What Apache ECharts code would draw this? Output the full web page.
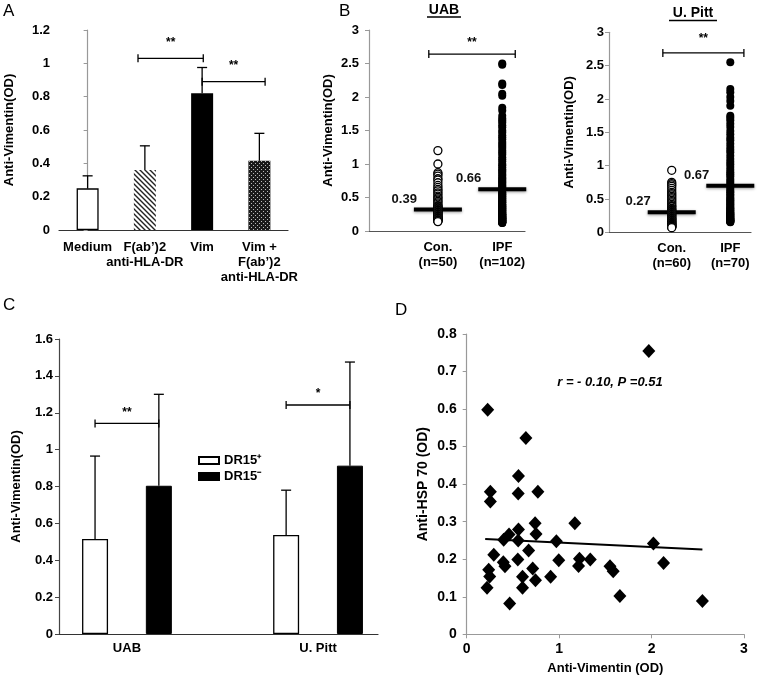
<!DOCTYPE html>
<html><head><meta charset="utf-8">
<script src="https://cdn.jsdelivr.net/npm/echarts@6/dist/echarts.min.js"></script>
<style>html,body{margin:0;padding:0;background:#fff}#c{width:757px;height:676px}</style>
</head><body><div id="c"></div>
<script>
// ---------- DATA ----------
// Panel A
const aCategories = ['Medium', 'F(ab’)2\nanti-HLA-DR', 'Vim', 'Vim +\nF(ab’)2\nanti-HLA-DR'];
const aMeans = [0.25, 0.36, 0.82, 0.415];
const aErrTops = [0.325, 0.505, 0.975, 0.58];
const aBrackets = [[0.88, 2.02, 1.03], [2.0, 3.1, 0.89]];
const aBracketLabels = ['**', '**'];

// Panel B - UAB
const ubGroups = ['Con.\n(n=50)', 'IPF\n(n=102)'];
const ubCon = [1.2, 1.0, 0.87, 0.85, 0.82, 0.78, 0.76, 0.72, 0.68, 0.65, 0.62, 0.6, 0.57, 0.55, 0.52, 0.5, 0.48, 0.46, 0.44, 0.42, 0.4, 0.38, 0.37, 0.36, 0.35, 0.34, 0.33, 0.32, 0.31, 0.3, 0.29, 0.28, 0.27, 0.26, 0.25, 0.24, 0.23, 0.22, 0.21, 0.2, 0.2, 0.19, 0.18, 0.18, 0.17, 0.16, 0.16, 0.15, 0.15, 0.14];
const ubIpf = [2.5, 2.48, 2.2, 2.18, 2.05, 2.02, 1.84, 1.8, 1.72, 1.68, 1.65, 1.62, 1.58, 1.55, 1.5, 1.47, 1.43, 1.4, 1.37, 1.33, 1.3, 1.27, 1.24, 1.2, 1.17, 1.14, 1.1, 1.07, 1.04, 1.0, 0.98, 0.95, 0.92, 0.9, 0.88, 0.85, 0.83, 0.8, 0.78, 0.76, 0.74, 0.72, 0.7, 0.68, 0.66, 0.64, 0.62, 0.6, 0.58, 0.56, 0.55, 0.53, 0.52, 0.5, 0.49, 0.47, 0.46, 0.44, 0.43, 0.42, 0.4, 0.39, 0.38, 0.37, 0.36, 0.35, 0.34, 0.33, 0.32, 0.31, 0.3, 0.29, 0.28, 0.27, 0.26, 0.25, 0.25, 0.24, 0.23, 0.23, 0.22, 0.21, 0.21, 0.2, 0.2, 0.19, 0.19, 0.18, 0.18, 0.17, 0.17, 0.16, 0.16, 0.15, 0.15, 0.14, 0.14, 0.13, 0.13, 0.13, 0.12, 0.12];
const ubMeanLevels = [0.32, 0.625];
const ubMeanLabels = ['0.39', '0.66'];
const ubBracket = [[0.92, 2.25, 2.64]];
const ubBracketLabels = ['**'];

// Panel B - U. Pitt
const upGroups = ['Con.\n(n=60)', 'IPF\n(n=70)'];
const upCon = [0.93, 0.75, 0.73, 0.71, 0.69, 0.66, 0.63, 0.6, 0.58, 0.56, 0.54, 0.52, 0.5, 0.48, 0.46, 0.44, 0.42, 0.4, 0.39, 0.38, 0.36, 0.35, 0.34, 0.33, 0.32, 0.31, 0.3, 0.29, 0.28, 0.27, 0.26, 0.25, 0.24, 0.23, 0.22, 0.21, 0.2, 0.2, 0.19, 0.18, 0.17, 0.17, 0.16, 0.15, 0.15, 0.14, 0.13, 0.13, 0.12, 0.12, 0.11, 0.11, 0.1, 0.1, 0.09, 0.09, 0.08, 0.08, 0.08, 0.07];
const upIpf = [2.55, 2.15, 2.1, 2.03, 1.97, 1.9, 1.75, 1.72, 1.68, 1.63, 1.58, 1.52, 1.47, 1.42, 1.38, 1.33, 1.28, 1.24, 1.2, 1.15, 1.1, 1.06, 1.02, 0.98, 0.94, 0.9, 0.87, 0.84, 0.8, 0.77, 0.74, 0.71, 0.68, 0.65, 0.62, 0.6, 0.57, 0.55, 0.52, 0.5, 0.48, 0.46, 0.44, 0.42, 0.4, 0.38, 0.36, 0.35, 0.33, 0.32, 0.3, 0.29, 0.28, 0.27, 0.26, 0.25, 0.24, 0.23, 0.22, 0.21, 0.2, 0.2, 0.19, 0.18, 0.18, 0.17, 0.17, 0.16, 0.16, 0.15];
const upMeanLevels = [0.30, 0.70];
const upMeanLabels = ['0.27', '0.67'];
const upBracket = [[0.91, 2.28, 2.69]];
const upBracketLabels = ['**'];

// Panel C
const cCategories = ['UAB', 'U. Pitt'];
const cSeriesNames = ['DR15⁺', 'DR15⁻'];
const cPlus = [0.515, 0.537];
const cPlusErr = [0.965, 0.78];
const cMinus = [0.804, 0.913];
const cMinusErr = [1.30, 1.475];
const cBracketY = [1.142, 1.242];
const cBracketLabels = ['**', '*'];

// Panel D
const dX = [0.227, 0.64, 0.56, 0.256, 0.557, 0.77, 0.256, 0.74, 1.17, 0.56, 0.458, 0.75, 0.40, 0.557, 0.97, 0.293, 0.67, 0.396, 0.414, 0.553, 0.996, 1.22, 1.21, 1.337, 0.238, 0.249, 0.22, 0.604, 0.714, 0.744, 0.908, 0.604, 0.465, 1.55, 1.585, 1.657, 1.97, 2.02, 2.13, 2.55];
const dY = [0.598, 0.523, 0.422, 0.380, 0.375, 0.380, 0.354, 0.296, 0.296, 0.279, 0.266, 0.267, 0.252, 0.250, 0.248, 0.212, 0.223, 0.192, 0.181, 0.199, 0.197, 0.201, 0.182, 0.199, 0.172, 0.154, 0.124, 0.153, 0.175, 0.144, 0.153, 0.124, 0.082, 0.181, 0.168, 0.102, 0.755, 0.242, 0.19, 0.089];
const dTrendX = [0.2, 2.55];
const dTrendY = [0.254, 0.226];
const dAnnotation = 'r = - 0.10, P =0.51';

// ---------- LAYOUT CONSTANTS ----------
const FONT = '"Liberation Sans", Arial, sans-serif';
const B_X = [1.06, 2.05];        // group positions on B x-axes
const C_GROUP_X = [2.13, 8.12];  // group centres on C x-axis
const C_OFF = 1.0;

// ---------- PATTERNS ----------
function hatchPattern() {
  const c = document.createElement('canvas'); c.width = 5; c.height = 5;
  const g = c.getContext('2d');
  g.fillStyle = '#fff'; g.fillRect(0, 0, 5, 5);
  g.strokeStyle = '#222'; g.lineWidth = 1.4;
  g.beginPath();
  g.moveTo(0, 0); g.lineTo(5, 5);
  g.moveTo(-1, 4); g.lineTo(1, 6);
  g.moveTo(4, -1); g.lineTo(6, 1);
  g.stroke();
  return { image: c, repeat: 'repeat' };
}
function checkPattern() {
  const c = document.createElement('canvas'); c.width = 4; c.height = 4;
  const g = c.getContext('2d');
  g.fillStyle = '#1a1a1a'; g.fillRect(0, 0, 4, 4);
  g.fillStyle = '#bbb'; g.fillRect(1, 1, 1, 1); g.fillRect(3, 3, 1, 1);
  return { image: c, repeat: 'repeat' };
}

// ---------- RENDERERS ----------
function renderErr(params, api) {
  const base = api.coord([api.value(0), api.value(1)]);
  const top = api.coord([api.value(0), api.value(2)]);
  const cap = 5;
  return { type: 'group', children: [
    { type: 'line', shape: { x1: base[0], y1: base[1], x2: top[0], y2: top[1] }, style: { stroke: '#000', lineWidth: 1.3 } },
    { type: 'line', shape: { x1: top[0] - cap, y1: top[1], x2: top[0] + cap, y2: top[1] }, style: { stroke: '#000', lineWidth: 1.3 } }
  ]};
}
function makeBracket(labels, raise) {
  return function (params, api) {
    const p1 = api.coord([api.value(0), api.value(2)]);
    const p2 = api.coord([api.value(1), api.value(2)]);
    const t = 4;
    return { type: 'group', children: [
      { type: 'line', shape: { x1: p1[0], y1: p1[1], x2: p2[0], y2: p2[1] }, style: { stroke: '#000', lineWidth: 1.3 } },
      { type: 'line', shape: { x1: p1[0], y1: p1[1] - t, x2: p1[0], y2: p1[1] + t }, style: { stroke: '#000', lineWidth: 1.3 } },
      { type: 'line', shape: { x1: p2[0], y1: p2[1] - t, x2: p2[0], y2: p2[1] + t }, style: { stroke: '#000', lineWidth: 1.3 } },
      { type: 'text', x: (p1[0] + p2[0]) / 2, y: p1[1] - (raise || 4),
        style: { text: labels[params.dataIndex], textAlign: 'center', textVerticalAlign: 'bottom', fontSize: 12, fontWeight: 'bold', fontFamily: FONT, fill: '#000' } }
    ]};
  };
}
function makeMean(labels) {
  return function (params, api) {
    const p = api.coord([api.value(0), api.value(1)]);
    const hw = 24;
    return { type: 'group', children: [
      { type: 'line', shape: { x1: p[0] - hw, y1: p[1], x2: p[0] + hw, y2: p[1] }, style: { stroke: '#000', lineWidth: 4, shadowBlur: 3, shadowColor: 'rgba(0,0,0,0.4)', shadowOffsetY: 1 } },
      { type: 'text', x: p[0] - hw + 3, y: p[1] - 4,
        style: { text: labels[params.dataIndex], textAlign: 'right', textVerticalAlign: 'bottom', fontSize: 13, fontWeight: 'bold', fontFamily: FONT, fill: '#111' } }
    ]};
  };
}

// ---------- AXES ----------
const labelStyle = (size) => ({ fontSize: size, fontWeight: 'bold', color: '#000', fontFamily: FONT });
function yAx(grid, max, interval, name, nameGap, opts) {
  opts = opts || {};
  return {
    type: 'value', gridIndex: grid, min: 0, max: max, interval: interval,
    name: name, nameLocation: 'middle', nameGap: nameGap, nameRotate: 90,
    nameTextStyle: labelStyle(opts.nameSize || 13),
    axisLine: { show: true, lineStyle: { color: opts.lineColor || '#999', width: 1.2 } },
    axisTick: { show: true, length: 4, lineStyle: { color: opts.lineColor || '#999' } },
    axisLabel: Object.assign(labelStyle(opts.labelSize || 13), { margin: opts.margin || 8 }),
    splitLine: { show: false }
  };
}

const option = {
  animation: false,
  backgroundColor: '#fff',
  textStyle: { fontFamily: FONT },
  grid: [
    { left: 59, top: 30, width: 229, height: 200, outerBoundsMode: 'none' },
    { left: 369, top: 30, width: 156, height: 201, outerBoundsMode: 'none' },
    { left: 609, top: 32.3, width: 142, height: 200, outerBoundsMode: 'none' },
    { left: 59, top: 339, width: 319, height: 295, outerBoundsMode: 'none' },
    { left: 466.7, top: 334, width: 277.3, height: 300.3, outerBoundsMode: 'none' }
  ],
  legend: {
    data: cSeriesNames, left: 193, top: 449, orient: 'vertical',
    itemWidth: 20, itemHeight: 7, itemGap: 3, icon: 'rect', selectedMode: false,
    textStyle: labelStyle(13)
  },
  xAxis: [
    { type: 'category', gridIndex: 0, data: aCategories,
      axisLine: { lineStyle: { color: '#333', width: 1.2 } }, axisTick: { show: false },
      axisLabel: Object.assign(labelStyle(13), { interval: 0, margin: 10, lineHeight: 15 }) },
    { type: 'value', gridIndex: 0, min: -0.5, max: 3.5, show: false },
    { type: 'value', gridIndex: 1, min: 0, max: 2.4,
      axisLine: { lineStyle: { color: '#555', width: 1.2 } }, axisTick: { show: false }, splitLine: { show: false },
      axisLabel: Object.assign(labelStyle(13), { customValues: B_X, margin: 9, lineHeight: 15,
        formatter: (v) => ubGroups[v < 1.5 ? 0 : 1] }) },
    { type: 'value', gridIndex: 2, min: 0, max: 2.4,
      axisLine: { lineStyle: { color: '#555', width: 1.2 } }, axisTick: { show: false }, splitLine: { show: false },
      axisLabel: Object.assign(labelStyle(13), { customValues: B_X, margin: 9, lineHeight: 15,
        formatter: (v) => upGroups[v < 1.5 ? 0 : 1] }) },
    { type: 'value', gridIndex: 3, min: 0, max: 10,
      axisLine: { lineStyle: { color: '#333', width: 1.2 } }, axisTick: { show: false }, splitLine: { show: false },
      axisLabel: Object.assign(labelStyle(13), { customValues: C_GROUP_X, margin: 8,
        formatter: (v) => cCategories[v < 5 ? 0 : 1] }) },
    { type: 'value', gridIndex: 4, min: 0, max: 3, interval: 1,
      name: 'Anti-Vimentin (OD)', nameLocation: 'middle', nameGap: 28, nameTextStyle: labelStyle(13),
      axisLine: { lineStyle: { color: '#999', width: 1.2 } }, axisTick: { show: true, length: 4, lineStyle: { color: '#999' } },
      splitLine: { show: false }, axisLabel: Object.assign(labelStyle(14), { margin: 8 }) }
  ],
  yAxis: [
    yAx(0, 1.2, 0.2, 'Anti-Vimentin(OD)', 43, { margin: 9 }),
    yAx(1, 3, 0.5, 'Anti-Vimentin(OD)', 34, { margin: 10 }),
    yAx(2, 3, 0.5, 'Anti-Vimentin(OD)', 33, { margin: 5 }),
    yAx(3, 1.6, 0.2, 'Anti-Vimentin(OD)', 36, { margin: 6, lineColor: '#444' }),
    yAx(4, 0.8, 0.1, 'Anti-HSP 70 (OD)', 37, { margin: 10, labelSize: 14, nameSize: 14 })
  ],
  series: [
    // ---- Panel A ----
    { type: 'bar', xAxisIndex: 0, yAxisIndex: 0, barWidth: 22,
      data: aMeans.map((v, i) => ({ value: v, itemStyle: [
        { color: '#fff', borderColor: '#000', borderWidth: 1.3 },
        { color: hatchPattern() },
        { color: '#000' },
        { color: checkPattern() }][i] })) },
    { type: 'custom', xAxisIndex: 1, yAxisIndex: 0, renderItem: renderErr,
      data: aMeans.map((v, i) => [i, v, aErrTops[i]]) },
    { type: 'custom', xAxisIndex: 1, yAxisIndex: 0, renderItem: makeBracket(aBracketLabels, 10),
      data: aBrackets },
    // ---- Panel B UAB ----
    { type: 'scatter', xAxisIndex: 2, yAxisIndex: 1, symbol: 'circle', symbolSize: 8,
      itemStyle: { color: '#fff', borderColor: '#000', borderWidth: 1.3, opacity: 1 },
      data: ubCon.map(v => [B_X[0], v]) },
    { type: 'scatter', xAxisIndex: 2, yAxisIndex: 1, symbol: 'circle', symbolSize: 8,
      itemStyle: { color: '#000', opacity: 1 },
      data: ubIpf.map(v => [B_X[1], v]) },
    { type: 'custom', xAxisIndex: 2, yAxisIndex: 1, renderItem: makeMean(ubMeanLabels),
      data: ubMeanLevels.map((v, i) => [B_X[i], v]) },
    { type: 'custom', xAxisIndex: 2, yAxisIndex: 1, renderItem: makeBracket(ubBracketLabels, 5),
      data: ubBracket },
    // ---- Panel B Pitt ----
    { type: 'scatter', xAxisIndex: 3, yAxisIndex: 2, symbol: 'circle', symbolSize: 8,
      itemStyle: { color: '#fff', borderColor: '#000', borderWidth: 1.3, opacity: 1 },
      data: upCon.map(v => [B_X[0], v]) },
    { type: 'scatter', xAxisIndex: 3, yAxisIndex: 2, symbol: 'circle', symbolSize: 8,
      itemStyle: { color: '#000', opacity: 1 },
      data: upIpf.map(v => [B_X[1], v]) },
    { type: 'custom', xAxisIndex: 3, yAxisIndex: 2, renderItem: makeMean(upMeanLabels),
      data: upMeanLevels.map((v, i) => [B_X[i], v]) },
    { type: 'custom', xAxisIndex: 3, yAxisIndex: 2, renderItem: makeBracket(upBracketLabels, 8),
      data: upBracket },
    // ---- Panel C ----
    { type: 'bar', name: cSeriesNames[0], xAxisIndex: 4, yAxisIndex: 3, barWidth: 26, barGap: '-100%',
      itemStyle: { color: '#fff', borderColor: '#000', borderWidth: 1.3 },
      data: cPlus.map((v, i) => [C_GROUP_X[i] - C_OFF, v]) },
    { type: 'bar', name: cSeriesNames[1], xAxisIndex: 4, yAxisIndex: 3, barWidth: 26, barGap: '-100%',
      itemStyle: { color: '#000', borderColor: '#000', borderWidth: 1 },
      data: cMinus.map((v, i) => [C_GROUP_X[i] + C_OFF, v]) },
    { type: 'custom', xAxisIndex: 4, yAxisIndex: 3, renderItem: renderErr,
      data: cPlus.map((v, i) => [C_GROUP_X[i] - C_OFF, v, cPlusErr[i]])
        .concat(cMinus.map((v, i) => [C_GROUP_X[i] + C_OFF, v, cMinusErr[i]])) },
    { type: 'custom', xAxisIndex: 4, yAxisIndex: 3, renderItem: makeBracket(cBracketLabels, 5),
      data: cBracketY.map((y, i) => [C_GROUP_X[i] - C_OFF, C_GROUP_X[i] + C_OFF, y]) },
    // ---- Panel D ----
    { type: 'scatter', xAxisIndex: 5, yAxisIndex: 4, symbol: 'diamond', symbolSize: [13, 14],
      itemStyle: { color: '#000', opacity: 1 },
      data: dX.map((x, i) => [x, dY[i]]) },
    { type: 'line', xAxisIndex: 5, yAxisIndex: 4, symbol: 'none',
      lineStyle: { color: '#000', width: 2 },
      data: dTrendX.map((x, i) => [x, dTrendY[i]]) }
  ],
  graphic: [
    { type: 'text', x: 3, y: 3, style: { text: 'A', fontSize: 17, fontFamily: FONT, fill: '#000' } },
    { type: 'text', x: 339, y: 3, style: { text: 'B', fontSize: 17, fontFamily: FONT, fill: '#000' } },
    { type: 'text', x: 3, y: 297, style: { text: 'C', fontSize: 17, fontFamily: FONT, fill: '#000' } },
    { type: 'text', x: 395, y: 302, style: { text: 'D', fontSize: 17, fontFamily: FONT, fill: '#000' } },
    { type: 'text', x: 444, y: 10, style: { text: 'UAB', fontSize: 14, fontWeight: 'bold', fontFamily: FONT, fill: '#000', textAlign: 'center', textVerticalAlign: 'middle' } },
    { type: 'line', shape: { x1: 427, y1: 17, x2: 461, y2: 17 }, style: { stroke: '#000', lineWidth: 1.4 } },
    { type: 'text', x: 693, y: 13, style: { text: 'U. Pitt', fontSize: 14, fontWeight: 'bold', fontFamily: FONT, fill: '#000', textAlign: 'center', textVerticalAlign: 'middle' } },
    { type: 'line', shape: { x1: 669, y1: 20.5, x2: 717, y2: 20.5 }, style: { stroke: '#000', lineWidth: 1.4 } },
    { type: 'text', x: 610, y: 382, style: { text: dAnnotation, fontSize: 13, fontWeight: 'bold', fontStyle: 'italic', fontFamily: FONT, fill: '#000', textAlign: 'center', textVerticalAlign: 'middle' } }
  ]
};

const chart = echarts.init(document.getElementById('c'), null, { renderer: 'canvas' });
chart.setOption(option);
</script></body></html>
